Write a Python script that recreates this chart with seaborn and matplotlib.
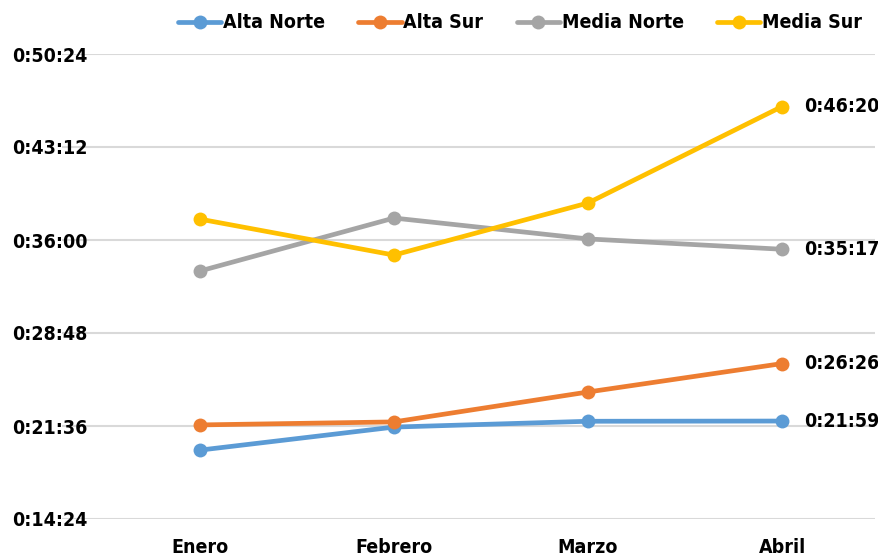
import matplotlib
matplotlib.use("Agg")
import matplotlib.pyplot as plt
from matplotlib.ticker import FuncFormatter
import seaborn as sns
import pandas as pd
from matplotlib import font_manager

months = ["Enero", "Febrero", "Marzo", "Abril"]
series = ["Alta Norte", "Alta Sur", "Media Norte", "Media Sur"]
# values in seconds
alta_norte = [1184, 1291, 1318, 1319]
alta_sur = [1301, 1315, 1454, 1586]
media_norte = [2016, 2262, 2165, 2117]
media_sur = [2257, 2090, 2332, 2780]
colors = ["#5B9BD5", "#ED7D31", "#A5A5A5", "#FFC000"]
y_ticks = [864, 1296, 1728, 2160, 2592, 3024]

sns.set_theme(style="white")
cands = [f for f in font_manager.fontManager.ttflist
         if "Condensed" in f.fname and "Bold" in f.fname and "Oblique" not in f.fname and "Italic" not in f.fname]
if cands:
    fp = font_manager.FontProperties(fname=cands[0].fname)
else:
    fp = font_manager.FontProperties(family="DejaVu Sans", weight="bold")
FS = 14

df = pd.DataFrame({
    "Mes": months * 4,
    "Serie": [s for s in series for _ in months],
    "Valor": alta_norte + alta_sur + media_norte + media_sur,
})
df["x"] = df["Mes"].map({m: i for i, m in enumerate(months)})

fig = plt.figure(figsize=(8.79, 5.56), dpi=100)
ax = fig.add_axes([62 / 879, 1 - 519 / 556, (875 - 62) / 879, (519 - 54) / 556])

for s in ax.spines.values():
    s.set_visible(False)
ax.set_yticks(y_ticks)
ax.yaxis.grid(True, color="#D9D9D9", linewidth=1.5)
ax.set_axisbelow(True)

sns.lineplot(data=df, x="x", y="Valor", hue="Serie", hue_order=series,
             palette=colors, marker="o", markersize=10, markeredgewidth=0,
             linewidth=3.4, ax=ax, legend=True)

def fmt(v, pos=None):
    v = int(round(v))
    h, r = divmod(v, 3600)
    m, s = divmod(r, 60)
    return f"{h}:{m:02d}:{s:02d}"

ax.yaxis.set_major_formatter(FuncFormatter(fmt))
ax.set_ylim(864, 3024)
ax.set_xlim(-0.711, 3.479)
ax.set_xticks(range(len(months)))
ax.set_xticklabels(months)
ax.set_xlabel("")
ax.set_ylabel("")
ax.tick_params(axis="both", length=0)
ax.tick_params(axis="y", pad=36)
ax.tick_params(axis="x", pad=14)
for lab in ax.get_xticklabels() + ax.get_yticklabels():
    lab.set_fontproperties(fp)
    lab.set_fontsize(FS)
    lab.set_color("black")
for lab in ax.get_yticklabels():
    lab.set_horizontalalignment("left")

for vals in [alta_norte, alta_sur, media_norte, media_sur]:
    t = ax.annotate(fmt(vals[-1]), (3, vals[-1]), xytext=(16, 0),
                    textcoords="offset points", va="center", ha="left",
                    color="black")
    t.set_fontproperties(fp)
    t.set_fontsize(FS)

h, l = ax.get_legend_handles_labels()
ax.legend_.remove()
leg = fig.legend(h, l, loc="center", bbox_to_anchor=(520 / 879, 1 - 22 / 556),
                 ncol=4, frameon=False, handlelength=2.6,
                 columnspacing=2.0, handletextpad=0.1, prop=fp)
for t in leg.get_texts():
    t.set_fontsize(FS)
    t.set_color("black")

fig.savefig("out.png", dpi=100)
